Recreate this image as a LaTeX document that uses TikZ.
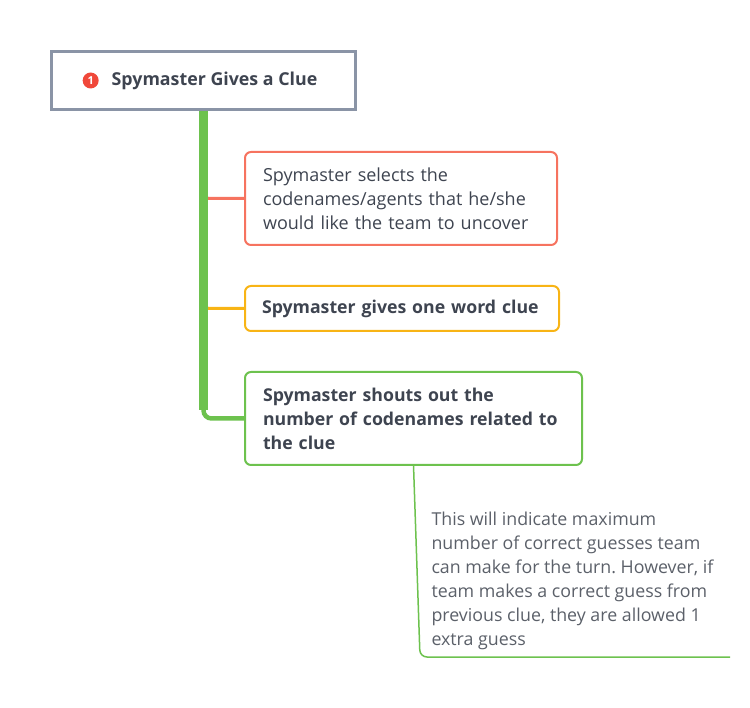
\documentclass[tikz,border=0pt]{standalone}
\usepackage{fontspec}
\setmainfont{Open Sans}
\usetikzlibrary{positioning}
\frenchspacing

\definecolor{framegray}{HTML}{8A94A6}
\definecolor{cluered}{HTML}{F6735F}
\definecolor{clueorange}{HTML}{F8B415}
\definecolor{cluegreen}{HTML}{6DC24E}
\definecolor{badgered}{HTML}{F0483A}
\definecolor{inkdark}{HTML}{3E4450}
\definecolor{inknote}{HTML}{5B6069}

\begin{document}
\begin{tikzpicture} [x=1pt,y=-1pt,line width=2pt,outer sep=0pt,
    topic/.style={draw, rounded corners=6pt, align=left, inner xsep=18pt,
      font=\fontsize{18}{24}\selectfont, text=inkdark},
    boldtopic/.style={topic, font=\fontsize{17.7}{24}\selectfont\bfseries},
    branch/.style={draw=#1, line width=3pt, rounded corners=6pt},
    trunk/.style={draw=cluegreen, line width=9pt}]

  \useasboundingbox (0,0) rectangle (750,708);

  \node[draw=framegray, line width=3pt, minimum width=304pt, minimum height=58pt,
    anchor=north west] (title) at (51.5,51.5) {};
  \node[inner sep=0pt, font=\fontsize{17.8}{21}\selectfont\bfseries, text=inkdark]
    (titletext) at ([xshift=11pt]title.center) {Spymaster Gives a Clue};
  \node[circle, fill=badgered, inner sep=0pt, minimum size=16pt, text=white,
    font=\fontsize{11}{11}\selectfont\bfseries, left=13pt of titletext] (badge) {1};

  \node[topic, draw=cluered, text width=276pt, minimum height=93pt, anchor=north west]
    (select) at (245,152) {Spymaster selects the\\codenames/agents that he/she\\would like the team to uncover};
  \node[boldtopic, draw=clueorange, text width=280pt, inner xsep=17pt, minimum height=45pt,
    below=41pt of select.south west, anchor=north west]
    (word) {Spymaster gives one word clue};
  \node[boldtopic, draw=cluegreen, text width=301pt, minimum height=93pt,
    below=41pt of word.south west, anchor=north west]
    (shout) {Spymaster shouts out the\\number of codenames related to\\the clue};

  \coordinate (tail) at (730,657);
  \node[inner sep=0pt, align=left, anchor=west, text=inknote,
    font=\fontsize{17.8}{24}\selectfont] (note) at (431.5,581)
    {This will indicate maximum\\number of correct guesses team\\can make for the turn. However, if\\team makes a correct guess from\\previous clue, they are allowed 1\\extra guess};

  % branches
  \draw[branch=cluered] ([yshift=10pt]title.south |- select.west) |- (select.west);
  \draw[branch=clueorange] ([yshift=10pt]title.south |- word.west) |- (word.west);
  \draw[branch=cluegreen, line width=4.5pt, rounded corners=8pt]
    ([yshift=16pt]title.south |- shout.west) |- (shout.west);
  \draw[trunk] ([yshift=-1.5pt]title.south) -- ([yshift=8pt]title.south |- shout.west);

  % note line
  \draw[cluegreen, line width=1.5pt, rounded corners=7pt] (shout.south) -- (420,657) -- (tail);

\end{tikzpicture}
\end{document}
